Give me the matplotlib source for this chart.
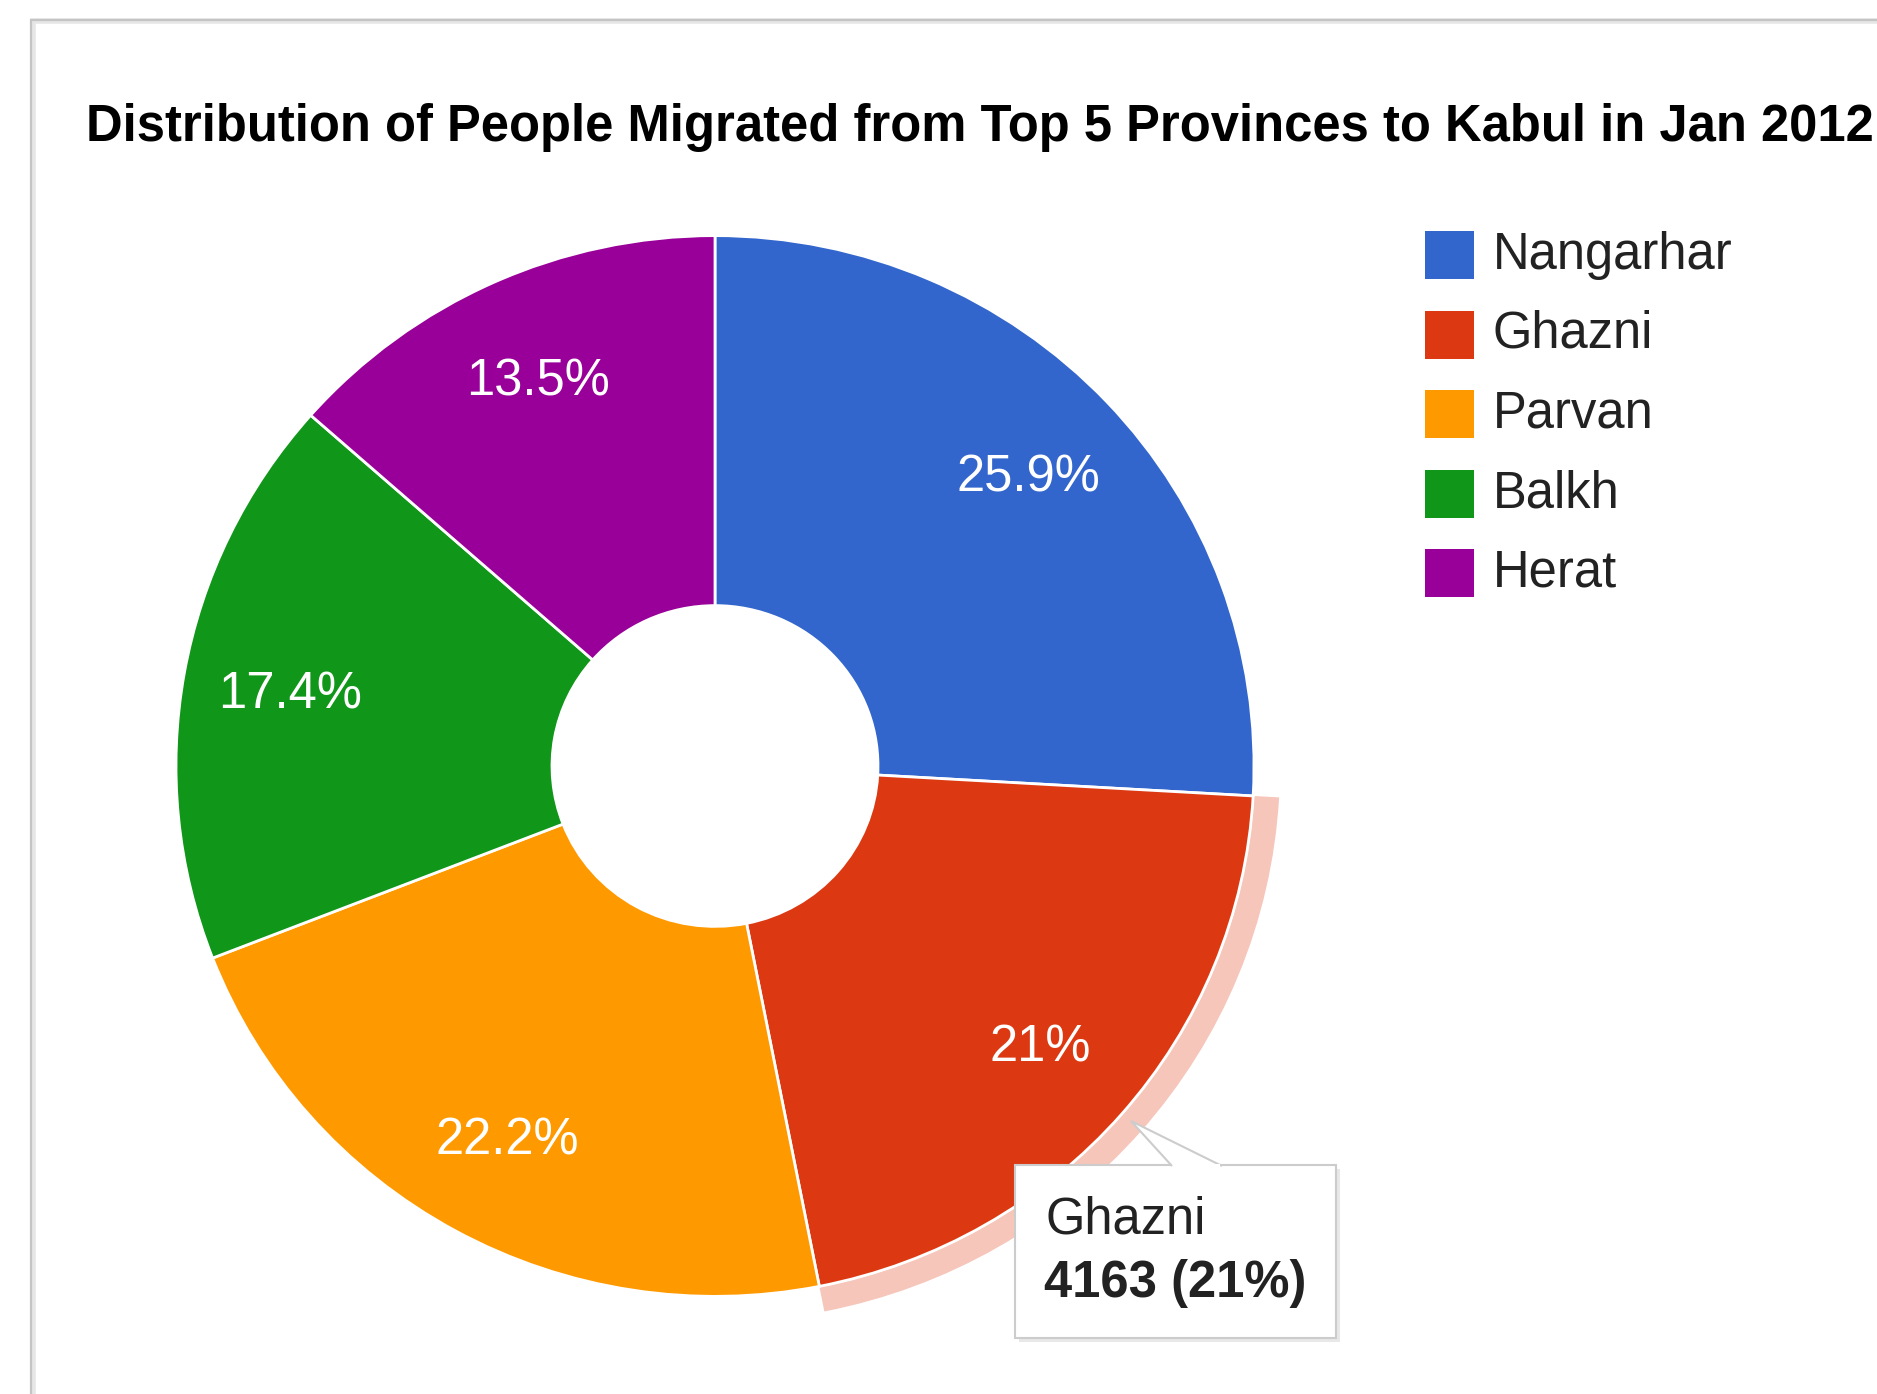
import matplotlib
matplotlib.use("Agg")
import matplotlib.pyplot as plt
from matplotlib.patches import Rectangle, Wedge, Polygon

plt.rcParams["font.family"] = ["Liberation Sans", "DejaVu Sans"]

# data
provinces = ["Nangarhar", "Ghazni", "Parvan", "Balkh", "Herat"]
people = [5134, 4163, 4401, 3449, 2676]
colors = ["#3366cc", "#dc3912", "#ff9900", "#109618", "#990099"]
title = "Distribution of People Migrated from Top 5 Provinces to Kabul in Jan 2012"
highlight = "Ghazni"

W, H = 1877, 1394
FS = 36.5
fig = plt.figure(figsize=(W / 100, H / 100), dpi=100)
ax = fig.add_axes([0, 0, 1, 1])
# the screenshot's pie is a touch flatter than round
sq = 0.984
pax = fig.add_axes([0, 0, 1, 1])


# pixel helper: y measured from top of image
def py(y):
    return H - y


cx, cy, R = 715, py(766) / sq, 539
hole = 163


def pct_fmt(p):
    s = "%.1f" % p
    if s.endswith(".0"):
        s = s[:-2]
    return s + "%"


wedges, _, autotexts = pax.pie(
    people, colors=colors, startangle=90, counterclock=False,
    radius=R, center=(cx, cy), autopct=pct_fmt, pctdistance=0.8,
    wedgeprops=dict(width=R - hole, edgecolor="white", linewidth=2),
    textprops=dict(color="white", fontsize=FS),
)
for t in autotexts:
    x, y = t.get_position()
    t.set_position((x, y - 3))

# highlight ring around the hovered slice
hi = provinces.index(highlight)
w = wedges[hi]
pax.add_patch(Wedge((cx, cy), R + 26, w.theta1, w.theta2, width=25,
                    facecolor="#f6c6bb", edgecolor="none", zorder=0.5))

pax.set_xlim(0, W)
pax.set_ylim(0, H / sq)
pax.set_aspect("auto")
pax.axis("off")

ax.set_xlim(0, W)
ax.set_ylim(0, H)
ax.axis("off")

# outer frame (card border)
ax.add_patch(Rectangle((33, -50), W + 100, py(21) + 50, facecolor="none",
                       edgecolor="#e6e6e6", linewidth=4, zorder=0))
ax.add_patch(Rectangle((31, -50), W + 100, py(20) + 50, facecolor="none",
                       edgecolor="#c4c4c4", linewidth=1.6, zorder=0))

# title
ax.text(86, py(127), title, fontsize=FS, fontweight="bold", color="#000000",
        ha="left", va="center")

# legend
for i, (name, c) in enumerate(zip(provinces, colors)):
    yc = py(255 + i * 79.5)
    ax.add_patch(Rectangle((1425, yc - 24), 49, 48, facecolor=c, edgecolor="none"))
    ax.text(1493, yc, name, fontsize=FS, color="#222222", ha="left", va="center")

# tooltip, drawn in its own axes on top of the pie
tax = fig.add_axes([0, 0, 1, 1])
tax.set_xlim(0, W)
tax.set_ylim(0, H)
tax.axis("off")
bx0, by0, bx1, by1 = 1015, 1165, 1336, 1338
tax.add_patch(Rectangle((bx0 + 4, py(by1) - 4), bx1 - bx0, by1 - by0,
                        facecolor="#e8e8e8", edgecolor="none", zorder=3))
tax.add_patch(Rectangle((bx0, py(by1)), bx1 - bx0, by1 - by0,
                        facecolor="white", edgecolor="#cccccc", linewidth=1.5, zorder=4))
tax.add_patch(Polygon([(1172, py(1166)), (1131, py(1121)), (1222, py(1166))],
                      closed=False, facecolor="white", edgecolor="#cccccc",
                      linewidth=1.5, zorder=5))
tax.add_patch(Rectangle((1174, py(1168)), 46, 4, facecolor="white",
                        edgecolor="none", zorder=6))
total = sum(people)
tax.text(1046, py(1220), highlight, fontsize=FS, color="#222222",
         ha="left", va="center", zorder=7)
tax.text(1044, py(1283), "%d (%s)" % (people[hi], pct_fmt(100 * people[hi] / total)),
         fontsize=FS, fontweight="bold", color="#222222", ha="left", va="center", zorder=7)

fig.savefig("out.png", dpi=100)
